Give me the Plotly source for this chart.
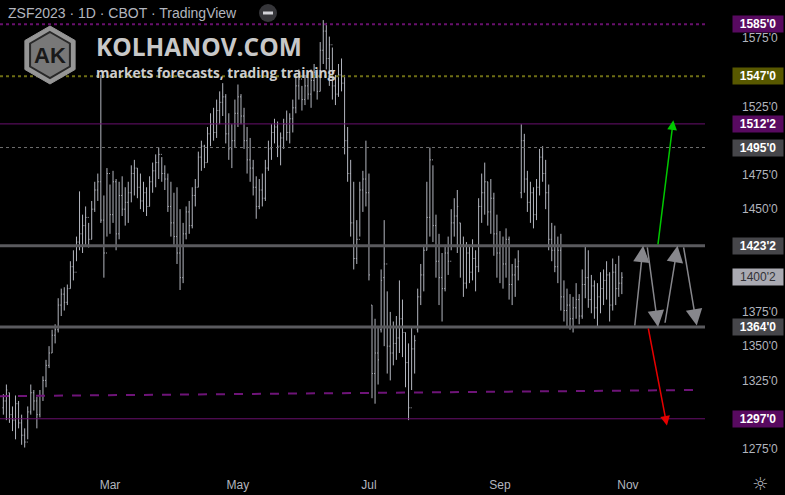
import pandas as pd
import plotly.graph_objects as go

# ---------------- data ----------------
START_DATE = "2023-01-09"
HOLIDAYS = ["2023-01-16", "2023-02-20", "2023-04-07", "2023-05-29",
            "2023-06-19", "2023-07-04", "2023-09-04"]

HIGH = [1315,1322,1316,1306,1314,1310,1300,1290,1306,1322,1318,1313,1318,1328,1340,1350,1362,1366,1385,1392,
        1393,1395,1412,1420,1430,1463,1446,1452,1440,1456,1470,1476,1548,1460,1480,1468,1478,1472,1470,1474,
        1466,1470,1482,1486,1480,1476,1470,1466,1474,1484,1490,1495,1488,1482,1476,1470,1462,1466,1450,1440,
        1452,1456,1466,1472,1492,1500,1497,1510,1520,1524,1530,1536,1542,1534,1520,1512,1530,1541,1534,1524,
        1510,1502,1486,1474,1472,1476,1486,1500,1512,1516,1514,1506,1516,1522,1520,1530,1546,1552,1540,1548,
        1550,1552,1556,1552,1572,1588,1586,1576,1568,1548,1556,1560,1548,1510,1486,1470,1442,1470,1478,1500,
        1476,1380,1370,1364,1406,1442,1390,1375,1368,1372,1398,1384,1360,1352,1364,1358,1392,1410,1424,1470,
        1495,1482,1446,1432,1418,1424,1430,1450,1458,1464,1440,1430,1426,1424,1428,1420,1458,1476,1484,1470,
        1472,1462,1446,1434,1430,1436,1430,1410,1414,1420,1512,1505,1478,1470,1466,1472,1494,1496,1486,1468,
        1440,1438,1430,1432,1398,1392,1388,1386,1396,1388,1406,1423,1420,1402,1398,1396,1404,1406,1412,1404,
        1414,1410,1416,1404]
LOW = [1300,1296,1294,1288,1282,1290,1278,1276,1282,1300,1303,1290,1298,1310,1320,1334,1345,1352,1360,1372,
       1376,1380,1392,1398,1412,1420,1418,1424,1422,1428,1448,1456,1440,1400,1430,1432,1440,1420,1428,1445,
       1438,1440,1455,1460,1458,1450,1448,1445,1452,1462,1466,1472,1470,1464,1448,1430,1424,1410,1391,1396,
       1428,1432,1436,1452,1466,1478,1480,1484,1496,1500,1502,1512,1518,1498,1486,1480,1495,1510,1512,1494,
       1476,1470,1460,1443,1450,1452,1456,1478,1486,1498,1488,1482,1494,1500,1498,1506,1520,1530,1522,1526,
       1530,1524,1536,1530,1536,1556,1552,1540,1530,1526,1532,1536,1490,1470,1430,1406,1410,1430,1448,1452,
       1398,1312,1308,1322,1360,1350,1330,1325,1336,1340,1345,1342,1320,1296,1318,1330,1360,1380,1390,1420,
       1430,1426,1400,1380,1368,1390,1402,1420,1430,1418,1400,1386,1392,1396,1398,1390,1404,1440,1446,1438,
       1432,1416,1400,1396,1392,1400,1384,1380,1386,1398,1458,1462,1448,1440,1436,1442,1460,1470,1450,1420,
       1412,1404,1396,1376,1368,1364,1362,1360,1370,1366,1370,1385,1378,1374,1370,1364,1374,1380,1384,1368,
       1376,1380,1386,1388]
OPEN = [1305,1310,1316,1300,1296,1308,1294,1285,1280,1302,1316,1310,1300,1314,1325,1336,1345,1358,1362,1380,
        1388,1382,1392,1408,1404,1426,1432,1438,1444,1428,1450,1464,1470,1442,1418,1476,1446,1470,1432,1460,
        1450,1455,1462,1476,1480,1466,1456,1462,1452,1470,1478,1484,1490,1476,1472,1452,1440,1430,1418,1400,
        1432,1448,1438,1460,1466,1488,1496,1484,1505,1512,1506,1522,1528,1532,1505,1494,1500,1520,1532,1518,
        1500,1486,1480,1466,1452,1464,1458,1480,1494,1506,1510,1496,1502,1512,1506,1516,1524,1540,1545,1530,
        1540,1534,1544,1550,1536,1566,1580,1560,1570,1540,1534,1548,1542,1500,1476,1440,1414,1428,1464,1472,
        1462,1380,1330,1345,1362,1400,1410,1350,1345,1352,1356,1370,1360,1338,1305,1348,1362,1386,1402,1420,
        1444,1486,1438,1412,1400,1392,1418,1412,1440,1445,1440,1424,1396,1418,1404,1414,1408,1452,1462,1470,
        1448,1458,1432,1418,1424,1410,1428,1395,1402,1408,1462,1500,1472,1455,1462,1446,1466,1488,1476,1462,
        1428,1420,1408,1420,1386,1376,1380,1370,1378,1384,1372,1395,1400,1384,1394,1378,1386,1392,1398,1402,
        1380,1404,1392,1396]
CLOSE = [1310,1318,1300,1296,1308,1294,1285,1280,1302,1316,1310,1300,1314,1325,1336,1345,1358,1362,1380,1388,
         1382,1392,1408,1404,1426,1432,1438,1444,1428,1450,1464,1470,1442,1418,1476,1446,1470,1432,1460,1450,
         1455,1462,1476,1480,1466,1456,1462,1452,1470,1478,1484,1490,1476,1472,1452,1440,1430,1418,1400,1432,
         1448,1438,1460,1466,1488,1496,1484,1505,1512,1506,1522,1528,1532,1505,1494,1500,1520,1532,1518,1500,
         1486,1480,1466,1452,1464,1458,1480,1494,1506,1510,1496,1502,1512,1506,1516,1524,1540,1545,1530,1540,
         1534,1544,1550,1536,1566,1580,1560,1570,1540,1534,1548,1542,1500,1476,1440,1414,1428,1464,1472,1462,
         1402,1330,1345,1340,1398,1410,1350,1345,1352,1356,1370,1360,1338,1305,1348,1354,1386,1402,1420,1444,
         1486,1438,1412,1400,1392,1418,1412,1440,1445,1452,1424,1396,1418,1404,1414,1408,1452,1462,1470,1448,
         1458,1432,1418,1424,1410,1428,1395,1402,1408,1412,1500,1472,1455,1462,1446,1466,1488,1476,1462,1428,
         1420,1408,1420,1386,1376,1380,1370,1378,1384,1372,1395,1400,1384,1394,1378,1386,1392,1398,1402,1380,
         1404,1392,1396,1400.25]

MONTH_LABELS = ["Mar", "May", "Jul", "Sep", "Nov"]
MONTH_STARTS = ["2023-03-01", "2023-05-01", "2023-07-01", "2023-09-01", "2023-11-01"]

PRICE_TICKS = [1600, 1575, 1525, 1475, 1450, 1375, 1350, 1325, 1275]

LEVEL_PRICES = [1585, 1547, 1512.25, 1495, 1423.25, 1364, 1297]
LEVEL_TEXT = ["1585'0", "1547'0", "1512'2", "1495'0", "1423'2", "1364'0", "1297'0"]
LAST_PRICE = 1400.25
LAST_TEXT = "1400'2"

TREND_START = 1313.5   # dashed purple line, left end
TREND_END = 1318.0     # dashed purple line, right end

# scenario arrows: (tail_idx, tail_price, head_idx, head_price)
GREY_ARROWS = [(207.2, 1364, 210.0, 1423.25), (211.3, 1423.25, 214.9, 1364),
               (217.1, 1366, 221.3, 1423.25), (223.2, 1423.25, 227.6, 1365)]
GREEN_ARROW = (214.8, 1423.25, 219.9, 1515)
RED_ARROW = (211.6, 1364, 217.8, 1292)

# ---------------- build ----------------
cbd = pd.offsets.CustomBusinessDay(holidays=HOLIDAYS)
trade_days = pd.date_range(START_DATE, periods=260, freq=cbd)
n = len(CLOSE)
idx = list(range(n))
tick_idx = [int((trade_days >= pd.Timestamp(d)).argmax()) for d in MONTH_STARTS]

W, H = 785, 495
PW, PH = 705, 470
def px(x):
    return x / PW
def py(y):
    return 1 - y / PH

BAR = "rgb(178,181,190)"
fig = go.Figure(go.Ohlc(
    x=idx, open=OPEN, high=HIGH, low=LOW, close=CLOSE,
    increasing=dict(line=dict(color=BAR, width=1)),
    decreasing=dict(line=dict(color=BAR, width=1)),
    tickwidth=0.3, hoverinfo="skip", text=[str(d.date()) for d in trade_days[:n]],
))

PURPLE = "rgb(104,16,110)"
OLIVE = "rgb(110,110,20)"
styles = [
    dict(color=PURPLE, width=2, dash="dot"),
    dict(color=OLIVE, width=2, dash="dot"),
    dict(color=PURPLE, width=1, dash="solid"),
    dict(color="rgb(110,110,110)", width=1, dash="dot"),
    dict(color="rgb(90,90,94)", width=3, dash="solid"),
    dict(color="rgb(90,90,94)", width=3, dash="solid"),
    dict(color=PURPLE, width=1, dash="solid"),
]
box_bg = ["rgb(88,10,96)", "rgb(88,88,0)", "rgb(88,10,96)", "rgb(70,70,74)",
          "rgb(70,70,74)", "rgb(70,70,74)", "rgb(88,10,96)"]

shapes = []
for p, st in zip(LEVEL_PRICES, styles):
    shapes.append(dict(type="line", xref="paper", yref="y", x0=0, x1=1, y0=p, y1=p,
                       line=st, layer="above"))
shapes.append(dict(type="line", xref="paper", yref="y", x0=0, x1=695 / PW,
                   y0=TREND_START, y1=TREND_END,
                   line=dict(color="rgb(110,20,120)", width=2, dash="dash")))

# logo hexagons
def hexpath(cx, cy, r):
    pts = [(cx, cy - r), (cx + r * 0.866, cy - r / 2), (cx + r * 0.866, cy + r / 2),
           (cx, cy + r), (cx - r * 0.866, cy + r / 2), (cx - r * 0.866, cy - r / 2)]
    return "M " + " L ".join(f"{px(a):.5f},{py(b):.5f}" for a, b in pts) + " Z"
shapes.append(dict(type="path", xref="paper", yref="paper", path=hexpath(50, 55, 29),
                   fillcolor="rgb(150,150,150)", line=dict(color="rgb(150,150,150)", width=1)))
shapes.append(dict(type="path", xref="paper", yref="paper", path=hexpath(50, 55, 23),
                   fillcolor="rgb(120,120,120)", line=dict(color="rgb(40,40,40)", width=2)))
# header minus icon
shapes.append(dict(type="circle", xref="paper", yref="paper",
                   x0=px(259), x1=px(277), y0=py(22), y1=py(4),
                   fillcolor="rgb(54,54,58)", line=dict(width=0)))
shapes.append(dict(type="line", xref="paper", yref="paper",
                   x0=px(263), x1=px(273), y0=py(13), y1=py(13),
                   line=dict(color="rgb(210,210,215)", width=3)))

annotations = []
for p, t, bg in zip(LEVEL_PRICES, LEVEL_TEXT, box_bg):
    annotations.append(dict(x=758 / PW, xref="paper", y=p, yref="y", text=f"<b>{t}</b>",
                            xanchor="center", yanchor="middle",
                            showarrow=False, bgcolor=bg, width=48, height=14, borderpad=1,
                            font=dict(color="white", size=12, family="Liberation Sans")))
annotations.append(dict(x=758 / PW, xref="paper", y=LAST_PRICE, yref="y", text=LAST_TEXT,
                        xanchor="center", yanchor="middle",
                        showarrow=False, bgcolor="rgb(170,170,178)", width=48, height=14,
                        borderpad=1, font=dict(color="rgb(50,50,55)", size=12,
                                               family="Liberation Sans")))

for (tx, ty, hx, hy) in GREY_ARROWS:
    annotations.append(dict(x=hx, y=hy, ax=tx, ay=ty, xref="x", yref="y", axref="x", ayref="y",
                            showarrow=True, arrowhead=2, arrowsize=2.2, arrowwidth=1.5,
                            arrowcolor="rgb(135,135,140)", text=""))
for (tx, ty, hx, hy), col in [(GREEN_ARROW, "rgb(0,200,0)"), (RED_ARROW, "rgb(230,0,0)")]:
    annotations.append(dict(x=hx, y=hy, ax=tx, ay=ty, xref="x", yref="y", axref="x", ayref="y",
                            showarrow=True, arrowhead=2, arrowsize=1.3, arrowwidth=1.5,
                            arrowcolor=col, text=""))

annotations += [
    dict(x=px(6), y=py(13), xref="paper", yref="paper", xanchor="left", yanchor="middle",
         text="ZSF2023 · 1D · CBOT · TradingView", showarrow=False,
         font=dict(size=14, color="rgb(178,181,190)", family="Liberation Sans")),
    dict(x=px(50), y=py(56), xref="paper", yref="paper", xanchor="center", yanchor="middle",
         text="<b>AK</b>", showarrow=False,
         font=dict(size=22, color="rgb(25,25,25)", family="Liberation Sans")),
    dict(x=px(94), y=py(46), xref="paper", yref="paper", xanchor="left", yanchor="middle",
         text="<b>KOLHANOV.COM</b>", showarrow=False,
         font=dict(size=24.5, color="rgb(200,200,200)", family="Open Sans")),
    dict(x=px(94), y=py(72), xref="paper", yref="paper", xanchor="left", yanchor="middle",
         text="<b>markets forecasts, trading training</b>", showarrow=False,
         font=dict(size=13.7, color="rgb(205,205,205)", family="Open Sans")),
    dict(x=760 / PW, y=py(484), xref="paper", yref="paper", xanchor="center", yanchor="middle",
         text="☼", showarrow=False,
         font=dict(size=18, color="rgb(178,181,190)", family="DejaVu Sans")),
]

fig.update_layout(
    width=W, height=H, paper_bgcolor="black", plot_bgcolor="black",
    margin=dict(l=0, r=W - PW, t=0, b=H - PH), showlegend=False,
    shapes=shapes, annotations=annotations,
    xaxis=dict(range=[-1.1, 230.3], tickvals=tick_idx, ticktext=MONTH_LABELS,
               showgrid=False, zeroline=False, showline=False, ticks="",
               rangeslider=dict(visible=False), fixedrange=True, ticklabelstandoff=6,
               tickfont=dict(size=12, color="rgb(178,181,190)", family="Liberation Sans")),
    yaxis=dict(range=[1259.6, 1602.7], side="right", tickvals=PRICE_TICKS,
               ticktext=[f"{v}'0" for v in PRICE_TICKS], showgrid=False, zeroline=False,
               showline=False, ticks="", ticklabelstandoff=36, fixedrange=True,
               tickfont=dict(size=12, color="rgb(178,181,190)", family="Liberation Sans")),
)

fig.write_html("out.html", config=dict(displayModeBar=False),
               post_script="document.body.style.margin='0px';document.body.style.overflow='hidden';")
